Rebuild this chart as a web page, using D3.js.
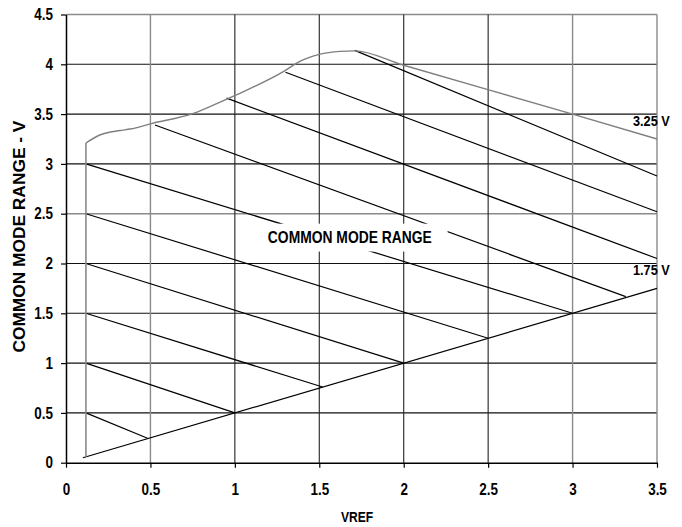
<!DOCTYPE html>
<html>
<head>
<meta charset="utf-8">
<script src="https://cdn.jsdelivr.net/npm/d3@7"></script>
<style>
  body { margin: 0; background: #fff; }
  text { font-family: "Liberation Sans", Arial, sans-serif; font-weight: bold; fill: #000; }
</style>
</head>
<body>
<div id="chart"></div>
<script>
(function(){

    // tick values
    var xTicks = [0, 0.5, 1, 1.5, 2, 2.5, 3, 3.5];
    var yTicks = [0, 0.5, 1, 1.5, 2, 2.5, 3, 3.5, 4, 4.5];

    // upper limit of the common mode range (grey curve)
    var upperLimit = [
        [0.118, 3.21], [0.2, 3.29], [0.32, 3.335], [0.38, 3.35], [0.507, 3.405],
        [0.754, 3.508], [0.872, 3.59], [1.005, 3.69], [1.287, 3.926], [1.385, 4.03],
        [1.5, 4.1], [1.622, 4.13], [1.71, 4.135], [2.0, 3.99], [3.0, 3.5], [3.5, 3.25]
    ];

    // lower limit (straight line) and the left edge
    var lowerLimit = [[0.1, 0.05], [3.5, 1.75]];
    var leftEdge = [[0.118, 0.059], [0.118, 3.21]];

    // hatching segments: x1, y1, x2, y2
    var hatch = [
        [0.118, 0.5, 0.483, 0.245],
        [0.118, 1.0, 1.0, 0.5],
        [0.118, 1.5, 1.52, 0.76],
        [0.118, 2.0, 2.0, 1.0],
        [0.118, 2.5, 2.5, 1.25],
        [0.118, 3.0, 3.0, 1.5],
        [0.527, 3.39, 3.315, 1.667],
        [0.951, 3.66, 3.5, 2.05],
        [1.30, 3.92, 3.5, 2.52],
        [1.71, 4.14, 3.5, 2.878]
    ];

    // annotation texts
    var rangeLabel = {text: "COMMON MODE RANGE", x: 1.681, y: 2.203, box: [1.10, 2.12, 2.26, 2.40]};
    var endLabels = [
        {text: "3.25 V", y: 3.25},
        {text: "1.75 V", y: 1.75}
    ];

    var grayX = [0.5, 3, 3.5],
        grayY = [2.5, 4.5];

    var W = 682, H = 527;
    var margin = {top: 14.5, right: 25, bottom: 64.3, left: 66};

    var x = d3.scaleLinear().domain([0, 3.5]).range([margin.left, W - margin.right]);
    var y = d3.scaleLinear().domain([0, 4.5]).range([H - margin.bottom, margin.top]);

    var svg = d3.select("#chart").append("svg")
        .attr("width", W)
        .attr("height", H);

    // squeeze text horizontally, the original uses a narrow face
    function narrow(sel, k) {
        sel.each(function() {
            var len = this.getComputedTextLength();
            d3.select(this)
                .attr("textLength", len * k)
                .attr("lengthAdjust", "spacingAndGlyphs");
        });
    }

    // grid
    svg.append("g").selectAll("line")
        .data(yTicks.filter(function(d) { return d > 0; }))
      .enter().append("line")
        .attr("x1", x(0)).attr("x2", x(3.5))
        .attr("y1", function(d) { return y(d); })
        .attr("y2", function(d) { return y(d); })
        .attr("stroke", function(d) { return grayY.indexOf(d) >= 0 ? "#8a8a8a" : "#111"; })
        .attr("stroke-width", function(d) { return grayY.indexOf(d) >= 0 ? 1.5 : 1.1; });

    svg.append("g").selectAll("line")
        .data(xTicks.filter(function(d) { return d > 0; }))
      .enter().append("line")
        .attr("y1", y(0)).attr("y2", y(4.5))
        .attr("x1", function(d) { return x(d); })
        .attr("x2", function(d) { return x(d); })
        .attr("stroke", function(d) { return grayX.indexOf(d) >= 0 ? "#8a8a8a" : "#222"; })
        .attr("stroke-width", function(d) { return grayX.indexOf(d) >= 0 ? 1.4 : 1.1; });

    var line = d3.line().x(function(d) { return x(d[0]); }).y(function(d) { return y(d[1]); });

    // hatching
    svg.append("g").selectAll("line")
        .data(hatch)
      .enter().append("line")
        .attr("x1", function(d) { return x(d[0]); })
        .attr("y1", function(d) { return y(d[1]); })
        .attr("x2", function(d) { return x(d[2]); })
        .attr("y2", function(d) { return y(d[3]); })
        .attr("stroke", "#000")
        .attr("stroke-width", 1.2);

    svg.append("path")
        .attr("d", line(lowerLimit))
        .attr("fill", "none")
        .attr("stroke", "#000")
        .attr("stroke-width", 1.2);

    svg.append("path")
        .attr("d", line(leftEdge))
        .attr("fill", "none")
        .attr("stroke", "#8a8a8a")
        .attr("stroke-width", 1.6);

    svg.append("path")
        .attr("d", line.curve(d3.curveMonotoneX)(upperLimit))
        .attr("fill", "none")
        .attr("stroke", "#7f7f7f")
        .attr("stroke-width", 1.4);

    // label with white box over the hatching
    var b = rangeLabel.box;
    svg.append("rect")
        .attr("x", x(b[0])).attr("y", y(b[3]))
        .attr("width", x(b[2]) - x(b[0]))
        .attr("height", y(b[1]) - y(b[3]))
        .attr("fill", "#fff");

    svg.append("text")
        .attr("x", x(rangeLabel.x))
        .attr("y", y(rangeLabel.y))
        .attr("text-anchor", "middle")
        .style("font-size", "16.5px")
        .attr("textLength", 164)
        .attr("lengthAdjust", "spacingAndGlyphs")
        .text(rangeLabel.text);

    svg.selectAll(".endlabel")
        .data(endLabels)
      .enter().append("text")
        .attr("class", "endlabel")
        .attr("x", x(3.5) - 24)
        .attr("y", function(d) { return y(d.y) - 13; })
        .style("font-size", "15.5px")
        .text(function(d) { return d.text; })
        .call(narrow, 0.82);

    // axes
    var xAxis = d3.axisBottom(x).tickValues(xTicks).tickSize(5).tickSizeOuter(0).tickPadding(16)
        .tickFormat(d3.format("~g"));
    var yAxis = d3.axisLeft(y).tickValues(yTicks).tickSize(5).tickSizeOuter(0).tickPadding(8)
        .tickFormat(d3.format("~g"));

    var gx = svg.append("g")
        .attr("transform", "translate(0," + y(0) + ")")
        .call(xAxis);
    var gy = svg.append("g")
        .attr("transform", "translate(" + x(0) + ",0)")
        .call(yAxis);

    [gx, gy].forEach(function(g) {
        g.attr("font-family", null).attr("font-size", null);
        g.select(".domain").attr("stroke", "#000").attr("stroke-width", 1.5);
        g.selectAll(".tick line").attr("stroke", "#000").attr("stroke-width", 1.2);
        g.selectAll(".tick text").style("font-size", "16px").call(narrow, 0.84);
    });

    // axis titles
    svg.append("text")
        .attr("x", 357)
        .attr("y", 522)
        .attr("text-anchor", "middle")
        .style("font-size", "15.5px")
        .text("VREF")
        .call(narrow, 0.78);

    svg.append("text")
        .attr("transform", "translate(25," + ((y(0) + y(4.5)) / 2 - 2) + ") rotate(-90)")
        .attr("text-anchor", "middle")
        .style("font-size", "16.5px")
        .attr("textLength", 232)
        .attr("lengthAdjust", "spacingAndGlyphs")
        .text("COMMON MODE RANGE - V");

})();
</script>
</body>
</html>
